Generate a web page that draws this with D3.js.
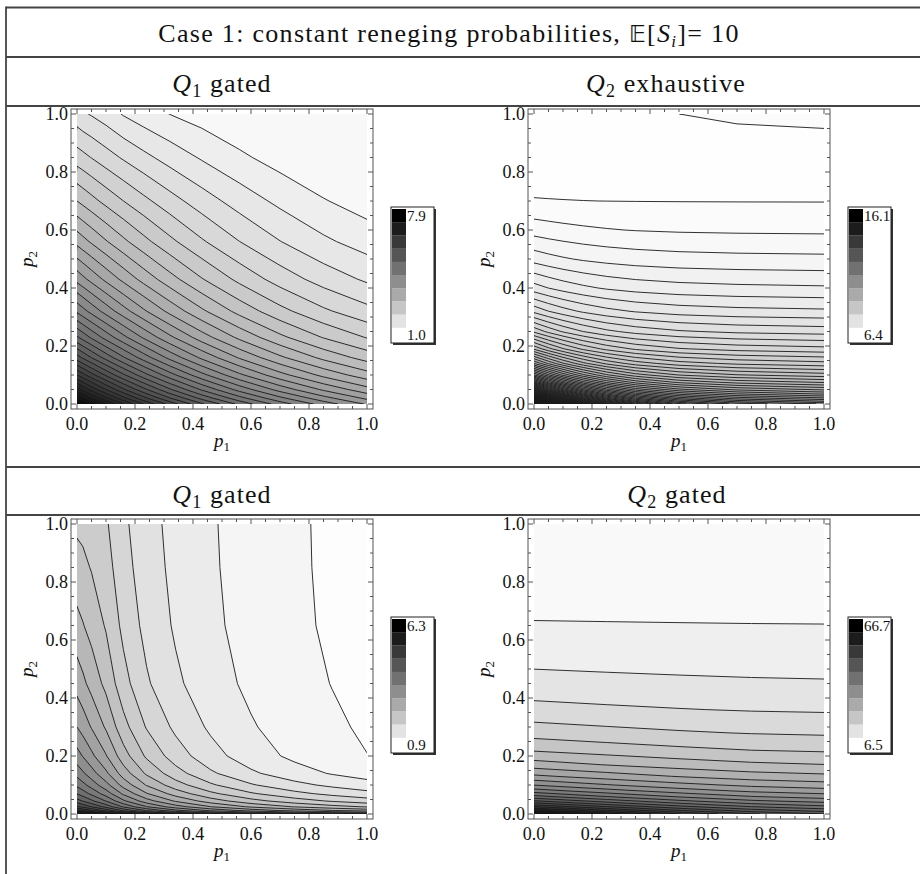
<!DOCTYPE html>
<meta charset="UTF-8">
<style>
body { margin: 0; background: #fff; }
svg text { font-family: "Liberation Serif", "DejaVu Serif", serif; fill: #111; }
</style>
<body>
<svg id="fig" width="920" height="874"></svg>
<script src="https://cdn.jsdelivr.net/npm/d3@7"></script>
<script>

// ---- Q1 gated, top row: nodes and sampled values (rows = p2, columns = p1)
var q1TopP1 = [0, 0.02, 0.05, 0.1, 0.16, 0.23, 0.32, 0.43, 0.56, 0.7, 0.85, 1.0];
var q1TopP2 = [0, 0.02, 0.05, 0.1, 0.16, 0.23, 0.32, 0.43, 0.56, 0.7, 0.85, 1.0];
var q1TopZ = [
  [7.900, 7.738, 7.505, 7.148, 6.759, 6.358, 5.906, 5.434, 4.966, 4.544, 4.165, 3.844],
  [7.512, 7.357, 7.137, 6.797, 6.427, 6.044, 5.610, 5.157, 4.706, 4.301, 3.940, 3.636],
  [7.038, 6.893, 6.685, 6.366, 6.015, 5.652, 5.238, 4.804, 4.372, 3.986, 3.644, 3.364],
  [6.371, 6.240, 6.051, 5.759, 5.438, 5.101, 4.717, 4.313, 3.910, 3.552, 3.240, 2.991],
  [5.687, 5.569, 5.401, 5.140, 4.850, 4.547, 4.197, 3.830, 3.464, 3.139, 2.859, 2.639],
  [5.051, 4.947, 4.797, 4.563, 4.305, 4.032, 3.719, 3.387, 3.056, 2.763, 2.513, 2.321],
  [4.411, 4.320, 4.190, 3.985, 3.758, 3.517, 3.240, 2.946, 2.654, 2.395, 2.176, 2.010],
  [3.808, 3.730, 3.617, 3.440, 3.244, 3.035, 2.795, 2.539, 2.283, 2.058, 1.869, 1.727],
  [3.233, 3.168, 3.074, 2.926, 2.761, 2.585, 2.383, 2.166, 1.951, 1.762, 1.601, 1.481],
  [2.717, 2.664, 2.588, 2.467, 2.334, 2.192, 2.027, 1.851, 1.674, 1.519, 1.386, 1.284],
  [2.238, 2.198, 2.135, 2.035, 1.925, 1.810, 1.680, 1.545, 1.410, 1.295, 1.195, 1.124],
  [1.830, 1.785, 1.740, 1.660, 1.550, 1.460, 1.370, 1.290, 1.210, 1.130, 1.060, 1.000]
];

// ---- Q2 exhaustive, top row
var q2ExhP1 = [0, 0.05, 0.1, 0.17, 0.25, 0.35, 0.5, 0.7, 1.0];
var q2ExhP2 = [0, 0.01, 0.02, 0.035, 0.05, 0.075, 0.1, 0.14, 0.19, 0.25, 0.32, 0.4, 0.5, 0.6, 0.7, 0.8, 0.9, 0.95, 1.0];
var q2ExhZ = [
  [16.10, 14.95, 14.03, 13.05, 12.25, 11.59, 11.02, 10.67, 10.44],
  [15.10, 14.11, 13.31, 12.46, 11.77, 11.19, 10.70, 10.39, 10.19],
  [14.27, 13.40, 12.70, 11.96, 11.35, 10.85, 10.41, 10.14, 9.968],
  [13.25, 12.52, 11.94, 11.32, 10.82, 10.40, 10.04, 9.816, 9.669],
  [12.44, 11.82, 11.33, 10.81, 10.38, 10.02, 9.718, 9.531, 9.407],
  [11.39, 10.91, 10.53, 10.12, 9.789, 9.514, 9.275, 9.129, 9.032],
  [10.60, 10.22, 9.915, 9.589, 9.324, 9.103, 8.914, 8.797, 8.719],
  [9.686, 9.408, 9.187, 8.950, 8.757, 8.596, 8.458, 8.373, 8.317],
  [8.896, 8.699, 8.543, 8.374, 8.238, 8.125, 8.027, 7.968, 7.928],
  [8.246, 8.109, 8.001, 7.885, 7.790, 7.712, 7.645, 7.602, 7.575],
  [7.722, 7.629, 7.556, 7.477, 7.413, 7.360, 7.314, 7.286, 7.268],
  [7.302, 7.242, 7.193, 7.142, 7.099, 7.064, 7.035, 7.017, 7.004],
  [6.936, 6.900, 6.872, 6.841, 6.816, 6.795, 6.777, 6.766, 6.759],
  [6.674, 6.654, 6.638, 6.621, 6.607, 6.595, 6.585, 6.579, 6.575],
  [6.4774, 6.4754, 6.4737, 6.4719, 6.4705, 6.4692, 6.4682, 6.4675, 6.4671],
  [6.4221, 6.4212, 6.4204, 6.4193, 6.4181, 6.4169, 6.4154, 6.4139, 6.4131],
  [6.4067, 6.4079, 6.4091, 6.4106, 6.4123, 6.4141, 6.4163, 6.4184, 6.4195],
  [6.4067, 6.4130, 6.4189, 6.4267, 6.4348, 6.4438, 6.4549, 6.4652, 6.4709],
  [6.4131, 6.4207, 6.4278, 6.4372, 6.4469, 6.4577, 6.4709, 6.4834, 6.4903]
];

// ---- Q1 gated, bottom row
var q1BotP1 = [0, 0.02, 0.05, 0.1, 0.16, 0.24, 0.34, 0.46, 0.6, 0.75, 0.88, 1.0];
var q1BotP2 = [0, 0.005, 0.012, 0.025, 0.045, 0.07, 0.1, 0.14, 0.2, 0.3, 0.45, 0.65, 0.85, 1.0];
var q1BotZ = [
  [6.300, 6.182, 5.994, 5.685, 5.264, 4.837, 4.459, 4.126, 3.847, 3.634, 3.497, 3.398],
  [5.677, 5.561, 5.377, 5.074, 4.657, 4.236, 3.864, 3.535, 3.260, 3.050, 2.915, 2.817],
  [5.234, 5.123, 4.944, 4.649, 4.242, 3.830, 3.467, 3.147, 2.878, 2.673, 2.540, 2.444],
  [4.776, 4.669, 4.498, 4.214, 3.817, 3.418, 3.067, 2.757, 2.496, 2.297, 2.167, 2.073],
  [4.373, 4.271, 4.107, 3.833, 3.447, 3.060, 2.720, 2.419, 2.167, 1.973, 1.847, 1.755],
  [4.056, 3.956, 3.795, 3.526, 3.147, 2.767, 2.436, 2.145, 1.901, 1.715, 1.594, 1.505],
  [3.794, 3.694, 3.532, 3.264, 2.887, 2.513, 2.189, 1.908, 1.676, 1.499, 1.385, 1.301],
  [3.544, 3.443, 3.282, 3.016, 2.643, 2.276, 1.962, 1.692, 1.472, 1.305, 1.198, 1.119],
  [3.276, 3.178, 3.022, 2.766, 2.405, 2.055, 1.763, 1.516, 1.317, 1.167, 1.070, 0.9987],
  [2.969, 2.879, 2.735, 2.501, 2.169, 1.856, 1.605, 1.399, 1.234, 1.110, 1.028, 0.966],
  [2.660, 2.581, 2.454, 2.250, 1.953, 1.682, 1.474, 1.305, 1.169, 1.063, 0.990, 0.933],
  [2.379, 2.324, 2.230, 2.071, 1.815, 1.583, 1.406, 1.259, 1.135, 1.035, 0.965, 0.909],
  [2.174, 2.143, 2.079, 1.959, 1.737, 1.534, 1.378, 1.242, 1.125, 1.027, 0.958, 0.902],
  [2.052, 2.037, 1.993, 1.899, 1.697, 1.511, 1.365, 1.236, 1.121, 1.025, 0.956, 0.900]
];

// ---- Q2 gated, bottom row
var q2GatP1 = [0, 0.25, 0.5, 0.75, 1.0];
var q2GatP2 = [0, 0.005, 0.012, 0.02, 0.03, 0.045, 0.06, 0.08, 0.1, 0.13, 0.17, 0.22, 0.28, 0.36, 0.45, 0.56, 0.7, 0.85, 1.0];
var q2GatZ = [
  [66.65, 59.43, 53.33, 48.62, 46.05],
  [63.50, 56.84, 51.22, 46.88, 44.50],
  [59.56, 53.58, 48.54, 44.64, 42.51],
  [55.62, 50.30, 45.81, 42.34, 40.45],
  [51.38, 46.74, 42.82, 39.79, 38.14],
  [46.12, 42.27, 39.02, 36.51, 35.14],
  [41.84, 38.60, 35.87, 33.76, 32.60],
  [37.24, 34.62, 32.40, 30.68, 29.75],
  [33.57, 31.40, 29.56, 28.15, 27.37],
  [29.25, 27.57, 26.16, 25.06, 24.46],
  [24.99, 23.76, 22.71, 21.90, 21.46],
  [21.16, 20.28, 19.54, 18.96, 18.65],
  [17.90, 17.29, 16.77, 16.38, 16.16],
  [14.87, 14.48, 14.16, 13.90, 13.77],
  [12.52, 12.28, 12.09, 11.94, 11.85],
  [10.51, 10.40, 10.30, 10.22, 10.18],
  [8.757, 8.732, 8.713, 8.698, 8.688],
  [7.452, 7.489, 7.518, 7.543, 7.555],
  [6.502, 6.578, 6.644, 6.693, 6.720]
];

// legend ranges [min, max], first contour level and contour spacing
var legendRanges = [[1.0, 7.9], [6.4, 16.1], [0.9, 6.3], [6.5, 66.7]];
var contourStart = [1.373, 6.471, 0.9952, 9.168];
var contourStep = [0.192, 0.1287, 0.2193, 2.448];

var tickValues = [0, 0.2, 0.4, 0.6, 0.8, 1.0];
var panelTitles = ["gated", "exhaustive", "gated", "gated"];
var panelQueues = ["1", "2", "1", "2"];

var svg = d3.select("#fig");
var fmt = d3.format(".1f");

// ---------- table rules ----------
var rule = "#444";
[7.5, 57, 106, 467, 515].forEach(function(yy) {
  svg.append("line").attr("x1", 6).attr("x2", 920).attr("y1", yy).attr("y2", yy)
    .attr("stroke", rule).attr("stroke-width", 1.8);
});
svg.append("line").attr("x1", 6).attr("x2", 6).attr("y1", 6.6).attr("y2", 874)
  .attr("stroke", rule).attr("stroke-width", 1.8);

// title
var title = svg.append("text").attr("x", 449).attr("y", 42).attr("text-anchor", "middle")
  .style("font-size", "26px").style("letter-spacing", "1.3px");
title.append("tspan").text("Case 1: constant reneging probabilities, ");
title.append("tspan").style("font-family", "DejaVu Sans").style("font-size", "23px").text("\u{1D53C}");
title.append("tspan").text("[");
title.append("tspan").style("font-style", "italic").text("S");
title.append("tspan").style("font-style", "italic").style("font-size", "17px").attr("dy", 5).text("i");
title.append("tspan").attr("dy", -5).text("]= 10");

var panels = [
  {z: q1TopZ, p1: q1TopP1, p2: q1TopP2, left: 77,  top: 114, sub: 222, subY: 92},
  {z: q2ExhZ, p1: q2ExhP1, p2: q2ExhP2, left: 534, top: 114, sub: 666, subY: 92},
  {z: q1BotZ, p1: q1BotP1, p2: q1BotP2, left: 77,  top: 524, sub: 222, subY: 503},
  {z: q2GatZ, p1: q2GatP1, p2: q2GatP2, left: 534, top: 524, sub: 677, subY: 503}
];

panels.forEach(function(pn, k) {
  var size = 290;
  var range = legendRanges[k];
  var x = d3.scaleLinear().domain([0, 1]).range([pn.left, pn.left + size]);
  var y = d3.scaleLinear().domain([0, 1]).range([pn.top + size, pn.top]);
  var n = pn.p1.length, m = pn.p2.length;
  // grid index -> p value (node i sits at i + 0.5 in contour space)
  var ui = d3.scaleLinear().domain(pn.p1.map(function(d, i) { return i + 0.5; })).range(pn.p1);
  var vj = d3.scaleLinear().domain(pn.p2.map(function(d, j) { return j + 0.5; })).range(pn.p2);
  var values = [].concat.apply([], pn.z);
  var levels = d3.range(contourStart[k], range[1] - 1e-6, contourStep[k]);
  var gray = d3.scaleLinear().domain(range).range(["#ffffff", "#000000"]).clamp(true);
  var contours = d3.contours().size([n, m]).thresholds(levels)(values);
  var proj = d3.geoTransform({point: function(px, py) { this.stream.point(x(ui(px)), y(vj(py))); }});
  var path = d3.geoPath(proj);

  // subtitle
  var st = svg.append("text").attr("x", pn.sub).attr("y", pn.subY).attr("text-anchor", "middle")
    .style("font-size", "26px").style("letter-spacing", "1.1px");
  st.append("tspan").style("font-style", "italic").text("Q");
  st.append("tspan").style("font-size", "18px").attr("dy", 5).text(panelQueues[k]);
  st.append("tspan").attr("dy", -5).text(" " + panelTitles[k]);

  var clipId = "clip" + k;
  svg.append("clipPath").attr("id", clipId).append("rect")
    .attr("x", pn.left).attr("y", pn.top).attr("width", size).attr("height", size);
  var g = svg.append("g").attr("clip-path", "url(#" + clipId + ")");

  var bandColor = function(i) {
    var lo = i === 0 ? range[0] : levels[i - 1];
    var hi = i < levels.length ? levels[i] : range[1];
    return gray((lo + hi) / 2);
  };
  g.append("rect").attr("x", pn.left).attr("y", pn.top).attr("width", size).attr("height", size)
    .attr("fill", bandColor(0));
  g.selectAll("path.band").data(contours).join("path").attr("class", "band")
    .attr("d", path).attr("fill", function(d, i) { return bandColor(i + 1); });
  g.selectAll("path.iso").data(contours).join("path").attr("class", "iso")
    .attr("d", path).attr("fill", "none").attr("stroke", "#1a1a1a").attr("stroke-width", 0.9);

  // frame with ticks
  var f0 = pn.left - 6, f1 = pn.left + size + 6, t0 = pn.top - 5, t1 = pn.top + size + 5;
  svg.append("rect").attr("x", f0).attr("y", t0).attr("width", f1 - f0).attr("height", t1 - t0)
    .attr("fill", "none").attr("stroke", "#555").attr("stroke-width", 1);
  var minor = d3.range(0, 1.0001, 0.05);
  var ticks = svg.append("g").attr("stroke", "#555").attr("stroke-width", 1);
  minor.forEach(function(v) {
    var major = Math.abs(v * 5 - Math.round(v * 5)) < 1e-6;
    var len = major ? 5 : 3;
    ticks.append("line").attr("x1", x(v)).attr("x2", x(v)).attr("y1", t1).attr("y2", t1 - len);
    ticks.append("line").attr("x1", x(v)).attr("x2", x(v)).attr("y1", t0).attr("y2", t0 + len);
    ticks.append("line").attr("y1", y(v)).attr("y2", y(v)).attr("x1", f0).attr("x2", f0 + len);
    ticks.append("line").attr("y1", y(v)).attr("y2", y(v)).attr("x1", f1).attr("x2", f1 - len);
  });
  tickValues.forEach(function(v) {
    svg.append("text").attr("x", x(v)).attr("y", t1 + 21).attr("text-anchor", "middle")
      .style("font-size", "18px").text(fmt(v));
    svg.append("text").attr("x", f0 - 3).attr("y", y(v) + 6).attr("text-anchor", "end")
      .style("font-size", "18px").text(fmt(v));
  });

  // axis labels
  var xl = svg.append("text").attr("x", x(0.5)).attr("y", t1 + 38).attr("text-anchor", "middle")
    .style("font-size", "19px");
  xl.append("tspan").style("font-style", "italic").text("p");
  xl.append("tspan").style("font-size", "13px").attr("dy", 4).text("1");
  var yl = svg.append("text").attr("transform", "translate(" + (pn.left - 44) + "," + y(0.5) + ") rotate(-90)")
    .attr("text-anchor", "middle").style("font-size", "19px");
  yl.append("tspan").style("font-style", "italic").text("p");
  yl.append("tspan").style("font-size", "13px").attr("dy", 4).text("2");

  // legend
  var lx = pn.left + 314, ly = pn.top + 93, lw = 43, lh = 136;
  svg.append("rect").attr("x", lx + 2).attr("y", ly + 2).attr("width", lw).attr("height", lh).attr("fill", "#333");
  svg.append("rect").attr("x", lx).attr("y", ly).attr("width", lw).attr("height", lh)
    .attr("fill", "#fff").attr("stroke", "#222").attr("stroke-width", 1);
  var sw = d3.scaleLinear().domain([0, 9]).range(["#000000", "#ffffff"]);
  d3.range(10).forEach(function(i) {
    svg.append("rect").attr("x", lx + 1).attr("y", ly + 2 + i * 13.2).attr("width", 14).attr("height", 13.4)
      .attr("fill", sw(i));
  });
  svg.append("text").attr("x", lx + 16).attr("y", ly + 14).style("font-size", "15px").text(fmt(range[1]));
  svg.append("text").attr("x", lx + 16).attr("y", ly + lh - 3).style("font-size", "15px").text(fmt(range[0]));
});
</script>
</body>
